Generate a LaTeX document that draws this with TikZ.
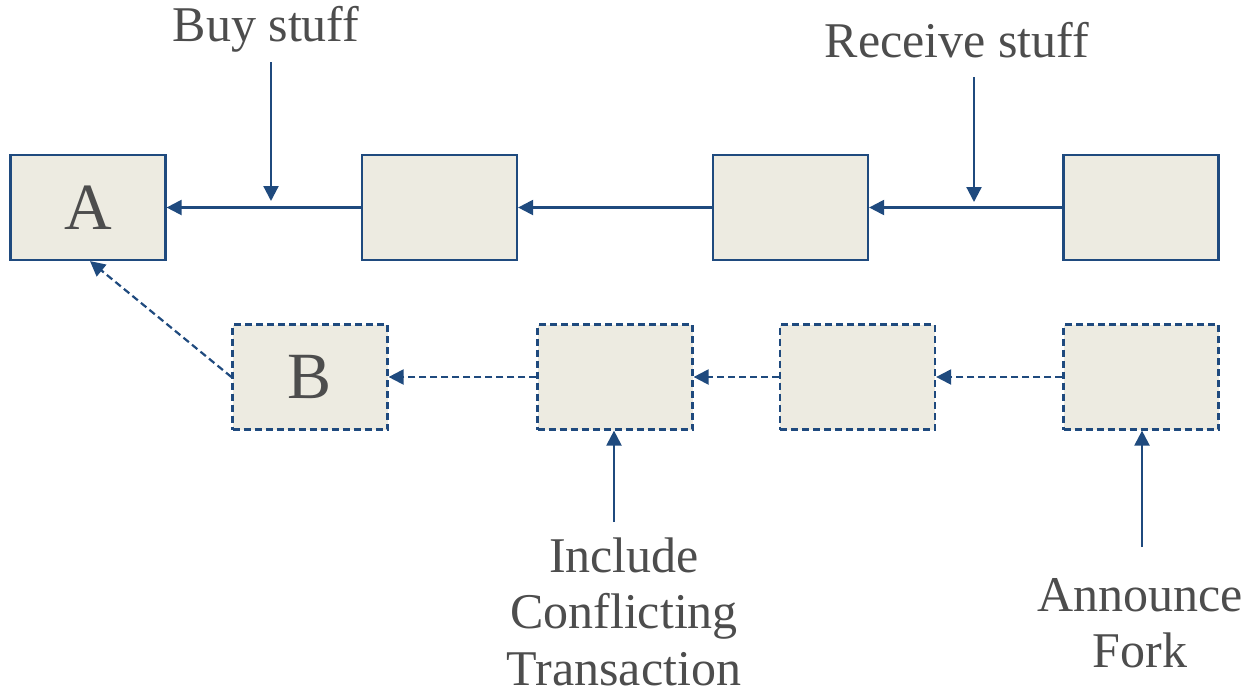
\documentclass[tikz,border=0pt]{standalone}
\usepackage{fontspec}
\setmainfont{Liberation Serif}
\usetikzlibrary{arrows.meta}
\definecolor{lineblue}{HTML}{1F4A7E}
\definecolor{boxfill}{HTML}{EDEBE1}
\definecolor{txtgray}{HTML}{4D4D4D}
\begin{document}
\begin{tikzpicture}[x=1pt,y=-1pt,
  blk/.style={draw=lineblue, fill=boxfill, line width=2.2pt, minimum width=155pt, minimum height=105pt, inner sep=0pt, text=txtgray, font=\fontsize{66}{66}\selectfont},
  fblk/.style={blk, dash pattern=on 7pt off 4pt},
  lbl/.style={text=txtgray, font=\fontsize{50}{56}\selectfont, inner sep=0pt, anchor=base},
  conn/.style={draw=lineblue, line width=2.2pt, -{Triangle[length=15pt,width=15pt]}},
  fconn/.style={conn, dash pattern=on 7pt off 4pt}]
\useasboundingbox (0,0) rectangle (1249,694);

% top chain
\node[blk] (A) at (88,207.5) {A};
\node[blk] (n2) at (439.5,207.5) {};
\node[blk] (n3) at (790.5,207.5) {};
\node[blk] (n4) at (1141,207.5) {};

% bottom (fork) chain
\node[fblk] (B) at (310,377) {B};
\node[fblk] (m2) at (615,377) {};
\node[fblk] (m3) at (857.5,377) {};
\node[fblk] (m4) at (1141,377) {};

% labels
\node[lbl] (buy) at (266,41) {Buy stuff};
\node[lbl] (recv) at (957,57) {Receive stuff};
\node[lbl] (inc1) at (624,572) {Include};
\node[lbl] (inc2) at (624,628) {Conflicting};
\node[lbl] (inc3) at (624,685) {Transaction};
\node[lbl] (ann1) at (1140,611) {Announce};
\node[lbl] (ann2) at (1140,667) {Fork};

% connector end points
\coordinate (buytop) at (271,62);
\coordinate (buybot) at (271,201);
\coordinate (recvtop) at (974,77);
\coordinate (recvbot) at (974,202);
\coordinate (incfoot) at (614,522);
\coordinate (annfoot) at (1142,547);

% top chain connectors
\draw[conn] (n2.west) -- (A.east);
\draw[conn] (n3.west) -- (n2.east);
\draw[conn] (n4.west) -- (n3.east);
\draw[conn] (buytop) -- (buybot);
\draw[conn] (recvtop) -- (recvbot);

% bottom chain connectors
\draw[fconn] (m2.west) -- (B.east);
\draw[fconn] (m3.west) -- (m2.east);
\draw[fconn] (m4.west) -- (m3.east);
\draw[fconn] (B.west) -- ([xshift=2pt]A.south);
\draw[conn] (incfoot) -- (incfoot |- m2.south);
\draw[conn] (annfoot) -- (annfoot |- m4.south);
\end{tikzpicture}
\end{document}
